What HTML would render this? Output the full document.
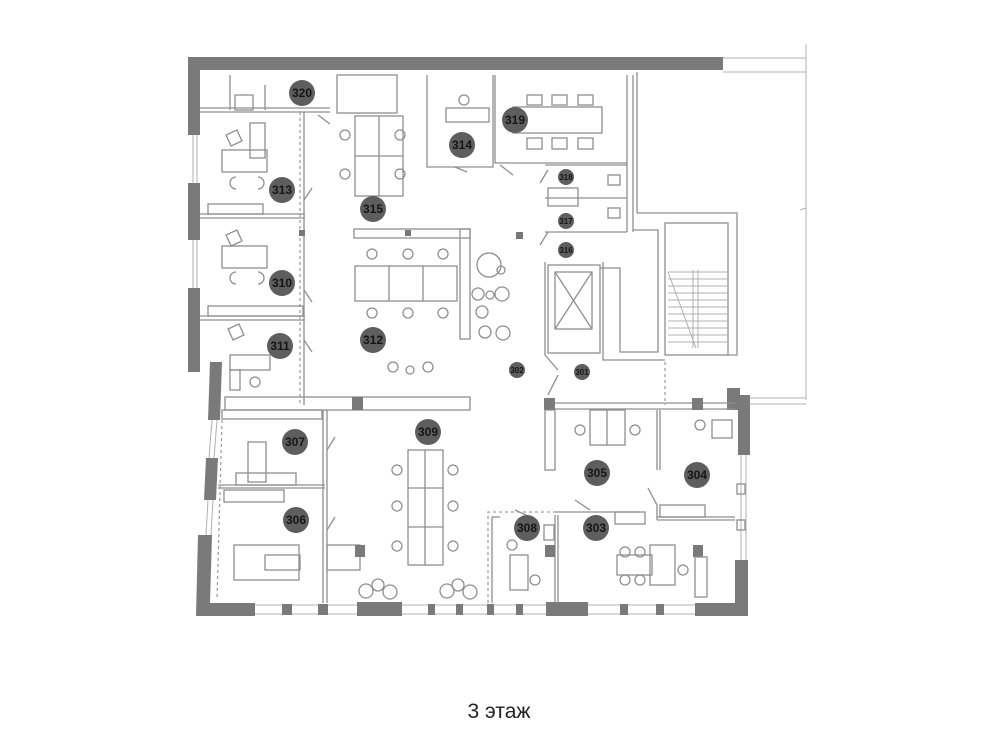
<!DOCTYPE html>
<html><head><meta charset="utf-8"><style>
html,body{margin:0;padding:0;background:#fff;width:1000px;height:750px;overflow:hidden}
svg{display:block}
.l{stroke:#8f8f8f;stroke-width:1.3;fill:none}
.t{stroke:#b0b0b0;stroke-width:1;fill:none}
.d{stroke:#a0a0a0;stroke-width:1.3;fill:none;stroke-dasharray:3 3}
.w{fill:#7a7a7a}
.b{fill:#5e5e5e}
.bt{font-family:"Liberation Sans",sans-serif;font-weight:bold;font-size:12px;fill:#151515;text-anchor:middle}
.st{font-family:"Liberation Sans",sans-serif;font-weight:bold;font-size:8px;fill:#151515;text-anchor:middle}
</style></head><body>
<svg width="1000" height="750" viewBox="0 0 1000 750" xmlns="http://www.w3.org/2000/svg">
<rect class="w" x="188" y="57" width="535" height="13"/>
<line class="t" x1="723" y1="58" x2="806" y2="58"/><line class="t" x1="723" y1="72" x2="806" y2="72"/>
<line class="t" x1="806" y1="44" x2="806" y2="400"/>
<line class="t" x1="800" y1="210" x2="806" y2="208"/>
<rect class="w" x="188" y="57" width="12" height="78"/>
<rect class="w" x="188" y="183" width="12" height="57"/>
<rect class="w" x="188" y="288" width="12" height="84"/>
<line class="t" x1="193" y1="135" x2="193" y2="183"/><line class="t" x1="197" y1="135" x2="197" y2="183"/>
<line class="t" x1="193" y1="240" x2="193" y2="288"/><line class="t" x1="197" y1="240" x2="197" y2="288"/>
<polygon class="w" points="210,362 222,362 220,420 208,420"/>
<polygon class="w" points="206,458 218,458 216,500 204,500"/>
<polygon class="w" points="198,535 212,535 210,603 255,603 255,616 196,616"/>
<line class="t" x1="212" y1="420" x2="209" y2="458"/><line class="t" x1="217" y1="420" x2="214" y2="458"/>
<line class="t" x1="208" y1="500" x2="206" y2="535"/><line class="t" x1="213" y1="500" x2="211" y2="535"/>
<line class="d" x1="222" y1="420" x2="217" y2="600"/>
<line class="t" x1="255" y1="605" x2="695" y2="605"/><line class="t" x1="255" y1="614" x2="695" y2="614"/>
<rect class="w" x="282" y="604" width="10" height="11"/><rect class="w" x="318" y="604" width="10" height="11"/>
<rect class="w" x="357" y="602" width="45" height="14"/><rect class="w" x="428" y="604" width="7" height="11"/>
<rect class="w" x="456" y="604" width="7" height="11"/><rect class="w" x="487" y="604" width="7" height="11"/>
<rect class="w" x="516" y="604" width="7" height="11"/><rect class="w" x="546" y="602" width="42" height="14"/>
<rect class="w" x="620" y="604" width="8" height="11"/><rect class="w" x="656" y="604" width="8" height="11"/>
<polygon class="w" points="695,603 735,603 735,560 748,560 748,616 695,616"/>
<polygon class="w" points="727,388 740,388 740,395 750,395 750,455 738,455 738,410 727,410"/>
<line class="t" x1="741" y1="455" x2="741" y2="560"/><line class="t" x1="746" y1="455" x2="746" y2="560"/>
<rect class="l" x="737" y="484" width="8" height="10"/><rect class="l" x="737" y="520" width="8" height="10"/>
<line class="t" x1="750" y1="398" x2="806" y2="398"/><line class="t" x1="750" y1="404" x2="806" y2="404"/>
<polyline class="l" points="200,112 330,112"/><line class="l" x1="200" y1="108" x2="330" y2="108"/>
<line class="l" x1="230" y1="75" x2="230" y2="110"/>
<rect class="l" x="235" y="95" width="18" height="15"/>
<line class="l" x1="265" y1="85" x2="265" y2="110"/>
<rect class="l" x="337" y="75" width="60" height="38"/>
<line class="l" x1="318" y1="115" x2="330" y2="124"/>
<circle class="b" cx="302" cy="93" r="13"/><text class="bt" x="302" y="97">320</text>
<polyline class="l" points="427,75 427,167 493,167 493,75"/>
<rect class="l" x="446" y="108" width="43" height="14"/><circle class="l" cx="464" cy="100" r="5"/>
<line class="l" x1="455" y1="167" x2="467" y2="172"/>
<circle class="b" cx="462" cy="145" r="13"/><text class="bt" x="462" y="149">314</text>
<polyline class="l" points="495,75 495,163 627,163"/>
<rect class="l" x="513" y="107" width="89" height="26"/>
<rect class="l" x="527" y="95" width="15" height="10"/><rect class="l" x="552" y="95" width="15" height="10"/><rect class="l" x="578" y="95" width="15" height="10"/>
<rect class="l" x="527" y="138" width="15" height="11"/><rect class="l" x="552" y="138" width="15" height="11"/><rect class="l" x="578" y="138" width="15" height="11"/>
<line class="l" x1="500" y1="165" x2="513" y2="175"/>
<circle class="b" cx="515" cy="120" r="13"/><text class="bt" x="515" y="124">319</text>
<line class="l" x1="627" y1="75" x2="627" y2="232"/><line class="l" x1="633" y1="75" x2="633" y2="232"/>
<line class="l" x1="637" y1="72" x2="637" y2="213"/><polyline class="l" points="637,213 737,213 737,355 728,355"/>
<line class="l" x1="545" y1="165" x2="627" y2="165"/><line class="l" x1="545" y1="232" x2="627" y2="232"/>
<line class="l" x1="545" y1="198" x2="627" y2="198"/>
<rect class="l" x="548" y="188" width="30" height="18"/>
<rect class="l" x="608" y="175" width="12" height="10"/><rect class="l" x="608" y="208" width="12" height="10"/>
<line class="l" x1="540" y1="183" x2="548" y2="170"/><line class="l" x1="540" y1="245" x2="548" y2="232"/>
<circle class="b" cx="566" cy="177" r="8"/><text class="st" x="566" y="180">318</text>
<circle class="b" cx="566" cy="221" r="8"/><text class="st" x="566" y="224">317</text>
<circle class="b" cx="566" cy="250" r="8"/><text class="st" x="566" y="253">316</text>
<polyline class="l" points="545,262 545,355"/>
<rect class="l" x="548" y="265" width="52" height="88"/>
<rect class="l" x="555" y="272" width="37" height="57"/>
<line class="l" x1="555" y1="272" x2="592" y2="329"/><line class="l" x1="592" y1="272" x2="555" y2="329"/>
<polyline class="l" points="600,268 620,268 620,352 658,352 658,230 633,230"/>
<polyline class="l" points="603,262 603,360 665,360"/>
<rect class="l" x="665" y="223" width="63" height="132"/>
<g class="t">
<line x1="668" y1="272" x2="728" y2="272"/><line x1="668" y1="279" x2="728" y2="279"/><line x1="668" y1="286" x2="728" y2="286"/><line x1="668" y1="293" x2="728" y2="293"/><line x1="668" y1="300" x2="728" y2="300"/><line x1="668" y1="307" x2="728" y2="307"/><line x1="668" y1="314" x2="728" y2="314"/><line x1="668" y1="321" x2="728" y2="321"/><line x1="668" y1="328" x2="728" y2="328"/><line x1="668" y1="335" x2="728" y2="335"/><line x1="668" y1="342" x2="728" y2="342"/>
<line x1="693" y1="270" x2="693" y2="348"/><line x1="698" y1="270" x2="698" y2="348"/><line x1="668" y1="272" x2="696" y2="348"/>
</g>
<line class="d" x1="665" y1="362" x2="665" y2="405"/>
<line class="l" x1="200" y1="218" x2="305" y2="218"/><line class="l" x1="200" y1="214" x2="305" y2="214"/>
<line class="l" x1="200" y1="320" x2="305" y2="320"/><line class="l" x1="200" y1="316" x2="305" y2="316"/>
<line class="l" x1="304" y1="112" x2="304" y2="405"/><line class="d" x1="300" y1="112" x2="300" y2="405"/>
<rect class="l" x="222" y="150" width="45" height="22"/><rect class="l" x="250" y="123" width="15" height="35"/>
<rect class="l" x="228" y="132" width="12" height="12" transform="rotate(-25 234 138)"/>
<path class="l" d="M236,177 a6,6 0 0 0 0,12 M258,177 a6,6 0 0 1 0,12"/>
<rect class="l" x="208" y="204" width="55" height="10"/>
<rect class="l" x="222" y="246" width="45" height="22"/>
<rect class="l" x="228" y="232" width="12" height="12" transform="rotate(-25 234 238)"/>
<path class="l" d="M236,272 a6,6 0 0 0 0,12 M258,272 a6,6 0 0 1 0,12"/>
<rect class="l" x="208" y="306" width="95" height="10"/>
<rect class="l" x="230" y="355" width="40" height="15"/><rect class="l" x="230" y="370" width="10" height="20"/>
<rect class="l" x="230" y="326" width="12" height="12" transform="rotate(-25 236 332)"/>
<circle class="l" cx="255" cy="382" r="5"/>
<line class="l" x1="304" y1="200" x2="312" y2="188"/><line class="l" x1="304" y1="290" x2="312" y2="302"/><line class="l" x1="304" y1="340" x2="312" y2="352"/>
<circle class="b" cx="282" cy="190" r="13"/><text class="bt" x="282" y="194">313</text>
<circle class="b" cx="282" cy="283" r="13"/><text class="bt" x="282" y="287">310</text>
<circle class="b" cx="280" cy="346" r="13"/><text class="bt" x="280" y="350">311</text>
<rect class="l" x="355" y="116" width="48" height="80"/><line class="l" x1="379" y1="116" x2="379" y2="196"/><line class="l" x1="355" y1="156" x2="403" y2="156"/>
<g class="l"><circle cx="345" cy="135" r="5"/><circle cx="400" cy="135" r="5"/><circle cx="345" cy="174" r="5"/><circle cx="400" cy="174" r="5"/></g>
<circle class="b" cx="373" cy="209" r="13"/><text class="bt" x="373" y="213">315</text>
<rect class="l" x="354" y="229" width="116" height="9"/><rect class="l" x="460" y="229" width="10" height="110"/>
<rect class="l" x="355" y="266" width="102" height="35"/><line class="l" x1="389" y1="266" x2="389" y2="301"/><line class="l" x1="423" y1="266" x2="423" y2="301"/>
<g class="l"><circle cx="372" cy="254" r="5"/><circle cx="408" cy="254" r="5"/><circle cx="443" cy="254" r="5"/><circle cx="372" cy="313" r="5"/><circle cx="408" cy="313" r="5"/><circle cx="443" cy="313" r="5"/>
<circle cx="489" cy="265" r="12"/><circle cx="501" cy="270" r="4"/><circle cx="478" cy="294" r="6"/><circle cx="490" cy="295" r="4"/><circle cx="502" cy="294" r="7"/><circle cx="482" cy="312" r="6"/><circle cx="485" cy="332" r="6"/><circle cx="503" cy="333" r="7"/>
<circle cx="393" cy="367" r="5"/><circle cx="410" cy="370" r="4"/><circle cx="428" cy="367" r="5"/></g>
<circle class="b" cx="373" cy="340" r="13"/><text class="bt" x="373" y="344">312</text>
<rect x="516" y="232" width="7" height="7" fill="#777"/><rect x="405" y="230" width="6" height="6" fill="#777"/><rect x="299" y="230" width="6" height="6" fill="#777"/>
<circle class="b" cx="517" cy="370" r="8"/><text class="st" x="517" y="373">302</text>
<circle class="b" cx="582" cy="372" r="8"/><text class="st" x="582" y="375">301</text>
<line class="l" x1="545" y1="355" x2="558" y2="370"/><line class="l" x1="558" y1="375" x2="548" y2="395"/>
<rect class="l" x="225" y="397" width="245" height="13"/>
<rect class="w" x="352" y="397" width="11" height="13"/>
<rect class="l" x="222" y="410" width="100" height="9"/>
<line class="l" x1="323" y1="410" x2="323" y2="603"/><line class="l" x1="327" y1="410" x2="327" y2="603"/>
<line class="l" x1="218" y1="488" x2="325" y2="488"/><line class="l" x1="218" y1="485" x2="325" y2="485"/>
<line class="l" x1="327" y1="450" x2="335" y2="437"/><line class="l" x1="327" y1="530" x2="335" y2="517"/>
<rect class="l" x="248" y="442" width="18" height="40"/><rect class="l" x="236" y="473" width="60" height="12"/>
<rect class="l" x="224" y="490" width="60" height="12"/>
<rect class="l" x="234" y="545" width="65" height="35"/><rect class="l" x="265" y="555" width="35" height="15"/>
<rect class="l" x="327" y="545" width="33" height="25"/><rect class="w" x="355" y="545" width="10" height="12"/>
<circle class="b" cx="295" cy="442" r="13"/><text class="bt" x="295" y="446">307</text>
<circle class="b" cx="296" cy="520" r="13"/><text class="bt" x="296" y="524">306</text>
<rect class="l" x="408" y="450" width="35" height="115"/><line class="l" x1="425" y1="450" x2="425" y2="565"/><line class="l" x1="408" y1="488" x2="443" y2="488"/><line class="l" x1="408" y1="527" x2="443" y2="527"/>
<g class="l"><circle cx="397" cy="470" r="5"/><circle cx="453" cy="470" r="5"/><circle cx="397" cy="506" r="5"/><circle cx="453" cy="506" r="5"/><circle cx="397" cy="546" r="5"/><circle cx="453" cy="546" r="5"/>
<circle cx="366" cy="591" r="7"/><circle cx="378" cy="585" r="6"/><circle cx="390" cy="592" r="7"/><circle cx="447" cy="591" r="7"/><circle cx="458" cy="585" r="6"/><circle cx="470" cy="592" r="7"/></g>
<circle class="b" cx="428" cy="432" r="13"/><text class="bt" x="428" y="436">309</text>
<line class="l" x1="545" y1="403" x2="735" y2="403"/><line class="l" x1="545" y1="409" x2="735" y2="409"/>
<rect class="w" x="544" y="398" width="11" height="12"/><rect class="w" x="692" y="398" width="11" height="12"/>
<rect class="l" x="545" y="410" width="10" height="60"/>
<rect class="l" x="590" y="410" width="35" height="35"/><line class="l" x1="607" y1="410" x2="607" y2="445"/>
<g class="l"><circle cx="580" cy="430" r="5"/><circle cx="635" cy="430" r="5"/><circle cx="700" cy="425" r="5"/></g>
<line class="l" x1="657" y1="410" x2="657" y2="470"/><line class="l" x1="660" y1="410" x2="660" y2="470"/>
<line class="l" x1="657" y1="505" x2="657" y2="520"/><line class="l" x1="657" y1="520" x2="735" y2="520"/><line class="l" x1="657" y1="517" x2="735" y2="517"/>
<line class="l" x1="648" y1="488" x2="657" y2="505"/>
<rect class="l" x="712" y="420" width="20" height="18"/><rect class="l" x="660" y="505" width="45" height="12"/>
<line class="l" x1="575" y1="500" x2="590" y2="510"/>
<line class="l" x1="555" y1="512" x2="640" y2="512"/><rect class="l" x="615" y="512" width="30" height="12"/>
<circle class="b" cx="597" cy="473" r="13"/><text class="bt" x="597" y="477">305</text>
<circle class="b" cx="697" cy="475" r="13"/><text class="bt" x="697" y="479">304</text>
<polyline class="d" points="488,603 488,512 555,512"/>
<line class="l" x1="492" y1="603" x2="492" y2="517"/><line class="l" x1="492" y1="517" x2="500" y2="517"/>
<line class="l" x1="515" y1="510" x2="530" y2="517"/>
<line class="l" x1="555" y1="515" x2="555" y2="603"/><line class="l" x1="558" y1="515" x2="558" y2="603"/>
<rect class="w" x="545" y="545" width="10" height="12"/>
<rect class="l" x="510" y="555" width="18" height="35"/><rect class="l" x="544" y="525" width="10" height="15"/>
<g class="l"><circle cx="512" cy="545" r="5"/><circle cx="535" cy="580" r="5"/></g>
<circle class="b" cx="527" cy="528" r="13"/><text class="bt" x="527" y="532">308</text>
<rect class="l" x="617" y="555" width="35" height="20"/><rect class="l" x="650" y="545" width="25" height="40"/>
<g class="l"><circle cx="625" cy="552" r="5"/><circle cx="640" cy="552" r="5"/><circle cx="625" cy="580" r="5"/><circle cx="640" cy="580" r="5"/><circle cx="683" cy="570" r="5"/></g>
<rect class="w" x="693" y="545" width="10" height="12"/><rect class="l" x="695" y="557" width="12" height="40"/>
<circle class="b" cx="596" cy="528" r="13"/><text class="bt" x="596" y="532">303</text>
<text x="499" y="718" font-family="Liberation Sans, sans-serif" font-size="21" fill="#222" text-anchor="middle">3 этаж</text>
</svg>
</body></html>
